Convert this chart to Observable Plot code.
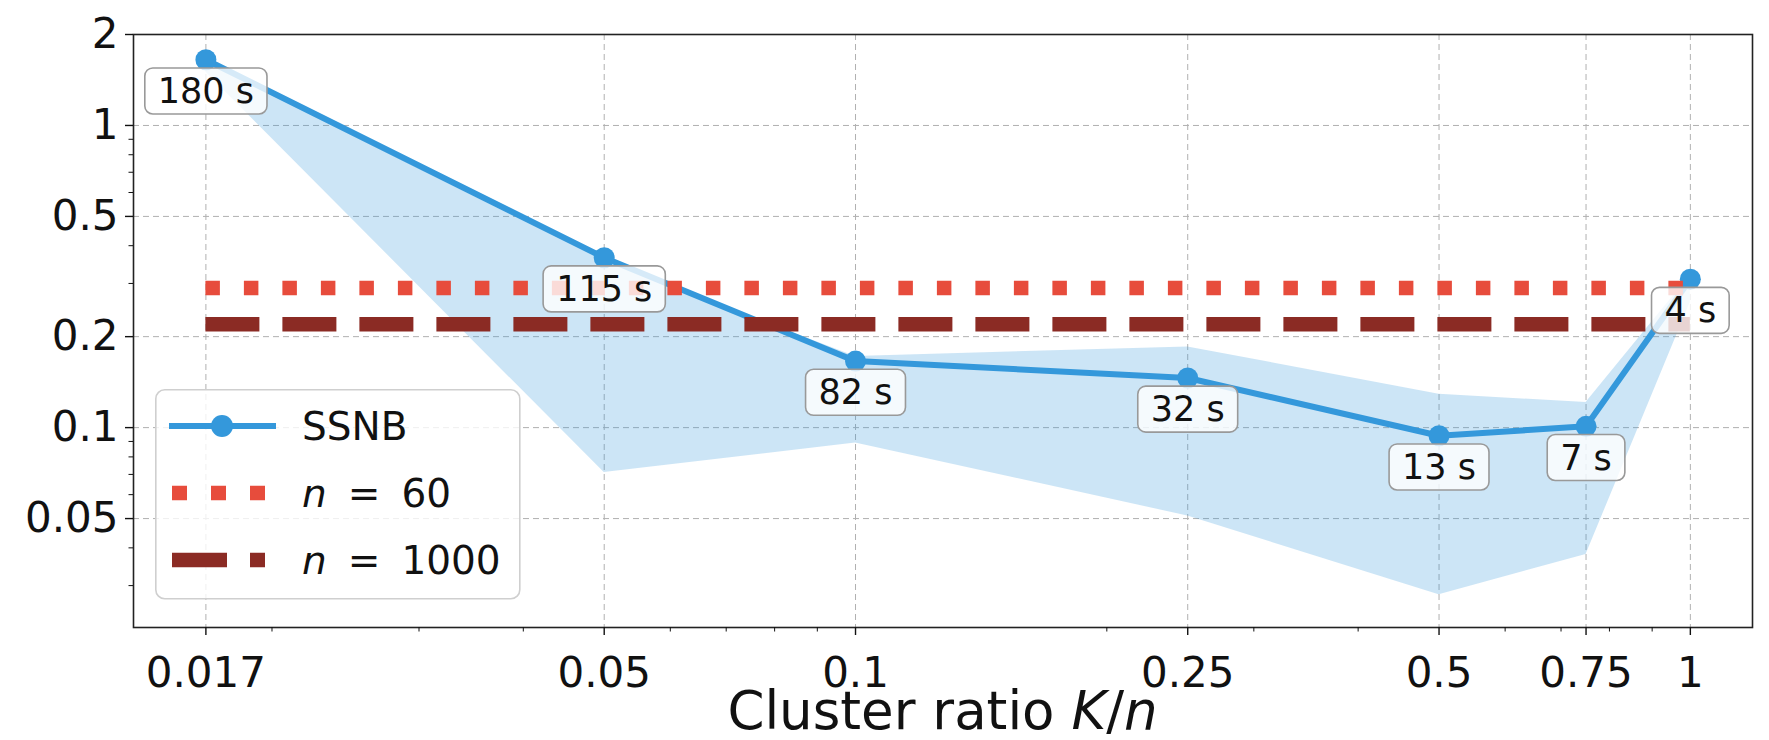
<!DOCTYPE html>
<html>
<head>
<meta charset="utf-8">
<script src="https://cdn.jsdelivr.net/npm/d3@7"></script>
<script src="https://cdn.jsdelivr.net/npm/@observablehq/plot@0.6"></script>
<style>
  body { margin: 0; background: #fff; }
  #wrap { position: relative; width: 1769px; height: 740px; font-family: "DejaVu Sans", sans-serif; }
  #legend { position: absolute; left: 155px; top: 389px; }
</style>
</head>
<body>
<div id="wrap"></div>
<script>
// ---- data ----
const ratios = [1 / 60, 0.05, 0.1, 0.25, 0.5, 0.75, 1];
const ratioLabels = ["0.017", "0.05", "0.1", "0.25", "0.5", "0.75", "1"];
const ssnbTime = [1.65, 0.365, 0.166, 0.146, 0.094, 0.101, 0.31];
const ssnbLow = [1.5, 0.071, 0.089, 0.051, 0.028, 0.038, 0.26];
const ssnbHigh = [1.62, 0.355, 0.172, 0.185, 0.129, 0.121, 0.32];
const runtimes = ["180 s", "115 s", "82 s", "32 s", "13 s", "7 s", "4 s"];
const baselineN60 = 0.29;
const baselineN1000 = 0.22;
const yTicks = [2, 1, 0.5, 0.2, 0.1, 0.05];
const yTickLabels = ["2", "1", "0.5", "0.2", "0.1", "0.05"];
const xMinor = [0.02, 0.03, 0.04, 0.06, 0.07, 0.08, 0.09, 0.2, 0.3, 0.4, 0.6, 0.7, 0.8, 0.9];
const yMinor = [0.03, 0.04, 0.06, 0.07, 0.08, 0.09, 0.3, 0.4, 0.6, 0.7, 0.8, 0.9];
const seriesNames = ["SSNB", "n = 60", "n = 1000"];

const blue = "#3498db", red = "#e74c3c", darkRed = "#8b2b24";
const rows = ratios.map((r, i) => ({ r, t: ssnbTime[i], lo: ssnbLow[i], hi: ssnbHigh[i], label: runtimes[i] }));

const gridStyle = { stroke: "#b0b0b0", strokeOpacity: 1, strokeDasharray: "6,4", strokeWidth: 1 };

const plot = Plot.plot({
  width: 1769,
  height: 740,
  marginLeft: 133,
  marginRight: 17,
  marginTop: 34,
  marginBottom: 113,
  x: { type: "log", domain: [0.01365, 1.187] },
  y: { type: "log", domain: [0.0218, 2] },
  style: { fontFamily: "DejaVu Sans", background: "white", color: "#111" },
  marks: [
    Plot.gridX(ratios, gridStyle),
    Plot.gridY(yTicks, gridStyle),
    Plot.areaY(rows, { x: "r", y1: "lo", y2: "hi", fill: blue, fillOpacity: 0.25 }),
    Plot.line(rows, { x: "r", y: "t", stroke: blue, strokeWidth: 6 }),
    Plot.dot(rows, { x: "r", y: "t", r: 10.5, fill: blue }),
    Plot.ruleY([baselineN60], { x1: ratios[0], x2: ratios[ratios.length - 1], stroke: red, strokeWidth: 14.5, strokeDasharray: "14.5,24" }),
    Plot.ruleY([baselineN1000], { x1: ratios[0], x2: ratios[ratios.length - 1], stroke: darkRed, strokeWidth: 14.5, strokeDasharray: "54,23" }),
    Plot.text(rows, { x: "r", y: "t", text: "label", dy: 32, fontSize: 35, fill: "#111" }),
    Plot.frame({ stroke: "#222", strokeWidth: 1.6 }),
    Plot.axisX(ratios, { tickFormat: d => ratioLabels[ratios.indexOf(d)], tickSize: 8, tickPadding: 22, fontSize: 42, label: null, strokeWidth: 1.4 }),
    Plot.axisX(xMinor, { tickFormat: () => "", tickSize: 4.5, label: null, strokeWidth: 1 }),
    Plot.axisY(yTicks, { tickFormat: d => yTickLabels[yTicks.indexOf(d)], tickSize: 8, tickPadding: 7, fontSize: 42, label: null, strokeWidth: 1.4 }),
    Plot.axisY(yMinor, { tickFormat: () => "", tickSize: 4.5, label: null, strokeWidth: 1 })
  ]
});

const wrap = document.getElementById("wrap");
wrap.appendChild(plot);
const ns = "http://www.w3.org/2000/svg";

// rounded boxes behind runtime labels
plot.querySelectorAll("text").forEach(t => {
  if (!runtimes.includes(t.textContent)) return;
  const parent = t.parentNode;
  const b = t.getBBox();
  const rect = document.createElementNS(ns, "rect");
  const px = 13, py = 3;
  rect.setAttribute("x", b.x - px);
  rect.setAttribute("y", b.y - py);
  rect.setAttribute("width", b.width + 2 * px);
  rect.setAttribute("height", b.height + 2 * py);
  rect.setAttribute("rx", 8);
  rect.setAttribute("fill", "white");
  rect.setAttribute("fill-opacity", 0.8);
  rect.setAttribute("stroke", "#999");
  rect.setAttribute("stroke-width", 1.6);
  const tr = t.getAttribute("transform");
  if (tr) rect.setAttribute("transform", tr);
  parent.insertBefore(rect, t);
});

// x axis title
const xs = plot.scale("x");
const xt = document.createElementNS(ns, "text");
xt.setAttribute("x", (xs.range[0] + xs.range[1]) / 2);
xt.setAttribute("y", 729);
xt.setAttribute("text-anchor", "middle");
xt.setAttribute("font-size", 53);
xt.setAttribute("fill", "#111");
xt.innerHTML = 'Cluster ratio <tspan font-style="italic">K</tspan>/<tspan font-style="italic">n</tspan>';
plot.appendChild(xt);

// legend (inside plot area, overlay)
const leg = d3.select(wrap).append("svg").attr("id", "legend").attr("width", 366).attr("height", 212);
leg.append("rect").attr("x", 0.8).attr("y", 0.8).attr("width", 364).attr("height", 209)
  .attr("rx", 9).attr("fill", "white").attr("fill-opacity", 0.8).attr("stroke", "#cfcfcf").attr("stroke-width", 1.6);
const rowY = [37, 104, 171];
const handles = [
  { stroke: blue, width: 6, dash: null, marker: true },
  { stroke: red, width: 14.5, dash: "15,24", marker: false },
  { stroke: darkRed, width: 14.5, dash: "55,23", marker: false }
];
handles.forEach((h, i) => {
  const ln = leg.append("line").attr("x1", h.marker ? 14 : 17).attr("x2", h.marker ? 121 : 110).attr("y1", rowY[i]).attr("y2", rowY[i])
    .attr("stroke", h.stroke).attr("stroke-width", h.width);
  if (h.dash) ln.attr("stroke-dasharray", h.dash);
  if (h.marker) leg.append("circle").attr("cx", 67).attr("cy", rowY[i]).attr("r", 11).attr("fill", h.stroke);
  const tx = leg.append("text").attr("x", 147).attr("y", rowY[i]).attr("dy", "0.36em")
    .attr("font-size", 39).attr("fill", "#111").attr("font-family", "DejaVu Sans");
  const name = seriesNames[i];
  if (name.startsWith("n ")) {
    const parts = name.split(" ");
    tx.append("tspan").attr("font-style", "italic").text(parts[0]);
    tx.append("tspan").attr("dx", 21).text(parts[1]);
    tx.append("tspan").attr("dx", 21).text(parts[2]);
  } else {
    tx.text(name);
  }
});
</script>
</body>
</html>
